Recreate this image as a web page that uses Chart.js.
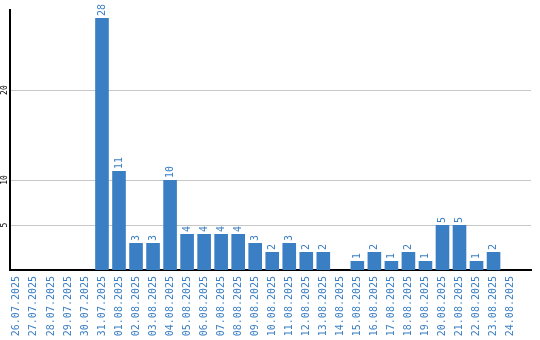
<!DOCTYPE html>
<html>
<head>
<meta charset="utf-8">
<script src="https://cdn.jsdelivr.net/npm/chart.js@4/dist/chart.umd.min.js"></script>
<style>
  body { margin: 0; background: #fff; }
  canvas { display: block; }
</style>
</head>
<body>
<canvas id="myChart" width="540" height="340"></canvas>
<script>
const days = [
    '26.07.2025', '27.07.2025', '28.07.2025', '29.07.2025', '30.07.2025',
    '31.07.2025', '01.08.2025', '02.08.2025', '03.08.2025', '04.08.2025',
    '05.08.2025', '06.08.2025', '07.08.2025', '08.08.2025', '09.08.2025',
    '10.08.2025', '11.08.2025', '12.08.2025', '13.08.2025', '14.08.2025',
    '15.08.2025', '16.08.2025', '17.08.2025', '18.08.2025', '19.08.2025',
    '20.08.2025', '21.08.2025', '22.08.2025', '23.08.2025', '24.08.2025'
];
const counts = [
    0, 0, 0, 0, 0,
    28, 11, 3, 3, 10,
    4, 4, 4, 4, 3,
    2, 3, 2, 2, 0,
    1, 2, 1, 2, 1,
    5, 5, 1, 2, 0
];
const yTicks = [5, 10, 20];

const BLUE = '#3a7ec3';
const MONO = '"DejaVu Sans Mono", monospace';

// numbers over the bars, turned like the date labels
const valueLabels = {
    id: 'valueLabels',
    afterDatasetsDraw(chart) {
        const ctx = chart.ctx;
        const meta = chart.getDatasetMeta(0);
        ctx.save();
        ctx.fillStyle = BLUE;
        ctx.font = '10px ' + MONO;
        ctx.textAlign = 'left';
        ctx.textBaseline = 'middle';
        meta.data.forEach((bar, i) => {
            if (!counts[i]) return;
            ctx.save();
            ctx.translate(bar.x, bar.y - 2);
            ctx.rotate(-Math.PI / 2);
            ctx.fillText(String(counts[i]), 0, 0);
            ctx.restore();
        });
        ctx.restore();
    }
};

// small rotated y tick labels left of the axis
const yLabels = {
    id: 'yLabels',
    afterDraw(chart) {
        const ctx = chart.ctx;
        const y = chart.scales.y;
        ctx.save();
        ctx.fillStyle = '#000';
        ctx.font = '8px ' + MONO;
        ctx.textAlign = 'center';
        ctx.textBaseline = 'middle';
        yTicks.forEach(v => {
            ctx.save();
            ctx.translate(4.5, y.getPixelForValue(v));
            ctx.rotate(-Math.PI / 2);
            ctx.fillText(String(v), 0, 0);
            ctx.restore();
        });
        ctx.restore();
    }
};

new Chart(document.getElementById('myChart'), {
    type: 'bar',
    data: {
        datasets: [{
            data: counts.map((c, i) => ({ x: i, y: c })),
            backgroundColor: BLUE,
            borderWidth: 0,
            barPercentage: 0.8,
            categoryPercentage: 1
        }]
    },
    plugins: [valueLabels, yLabels],
    options: {
        responsive: false,
        animation: false,
        devicePixelRatio: 1,
        layout: { padding: { top: 10, right: 9, left: 0, bottom: 0 } },
        plugins: { legend: { display: false }, tooltip: { enabled: false } },
        scales: {
            x: {
                type: 'linear',
                offset: false,
                min: -0.403,
                max: 30.2,
                grid: { display: false, drawTicks: false, offset: false },
                border: { display: true, color: '#000', width: 2 },
                afterBuildTicks: scale => {
                    scale.ticks = days.map((_, i) => ({ value: i }));
                },
                afterFit: scale => { scale.height = 70; },
                ticks: {
                    autoSkip: false,
                    minRotation: 90,
                    maxRotation: 90,
                    padding: 6,
                    color: BLUE,
                    font: { family: MONO, size: 10 },
                    callback: v => days[v]
                }
            },
            y: {
                min: 0,
                max: 28.9,
                grid: { color: '#c8c8c8', lineWidth: 1, drawTicks: false },
                border: { display: true, color: '#000', width: 2 },
                afterBuildTicks: scale => {
                    scale.ticks = yTicks.map(v => ({ value: v }));
                },
                afterFit: scale => { scale.width = 10; },
                ticks: { display: false }
            }
        }
    }
});
</script>
</body>
</html>
